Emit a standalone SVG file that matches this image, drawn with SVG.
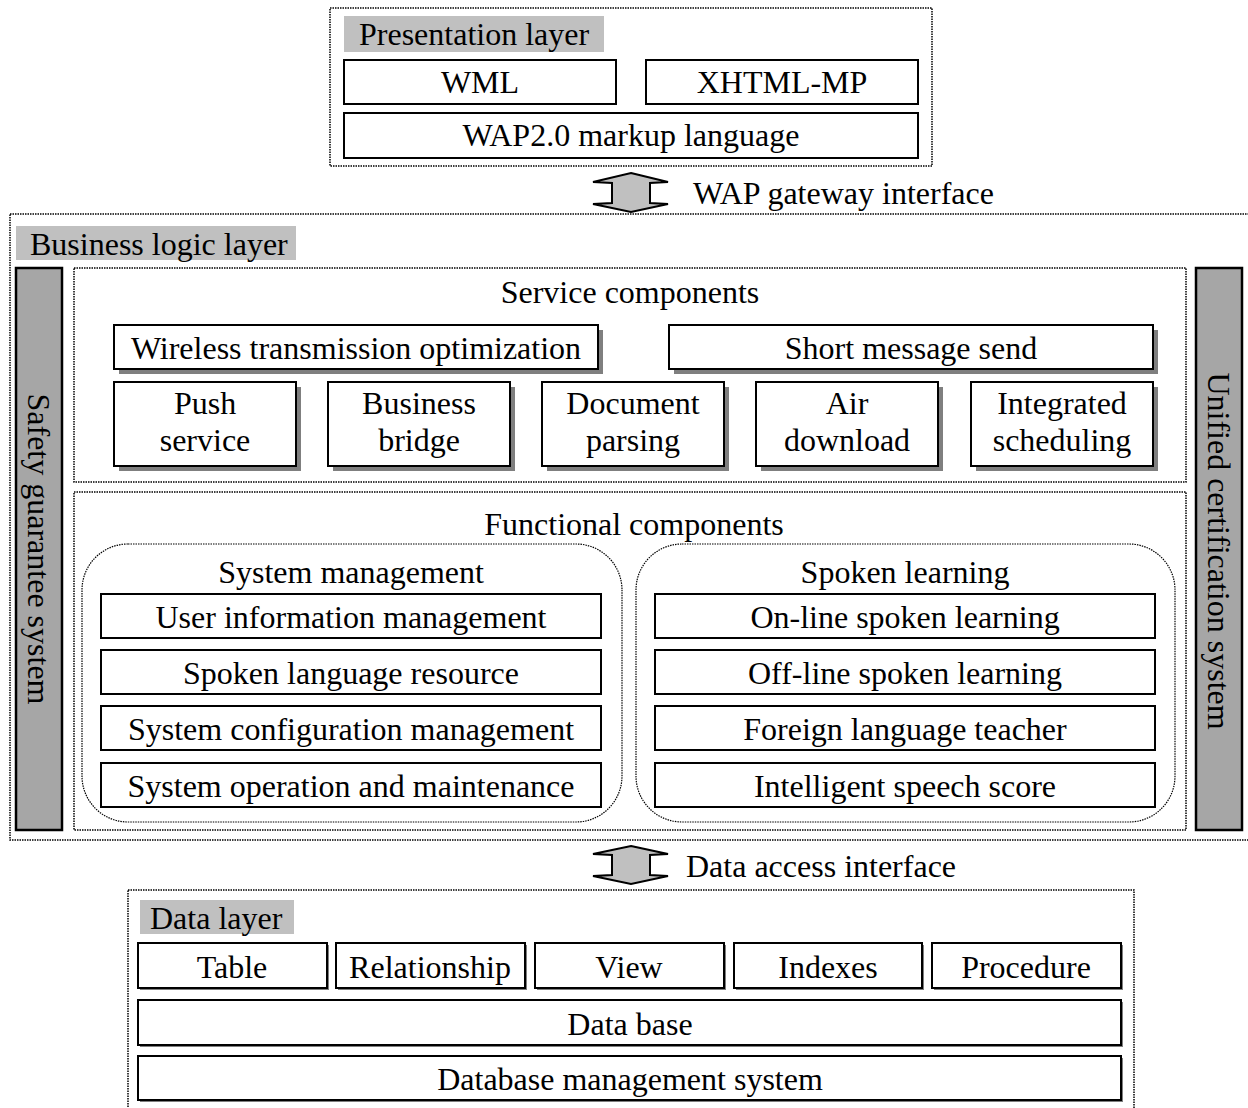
<svg xmlns="http://www.w3.org/2000/svg" width="1248" height="1108" viewBox="0 0 1248 1108">
<style>
text{font-family:"Liberation Serif","Times New Roman",serif;font-size:32px;fill:#000}
.c{text-anchor:middle}
.dot{fill:#fff;stroke:#000;stroke-width:1.5;stroke-dasharray:1.5 1}
.rdot{fill:none;stroke:#000;stroke-width:1.2;stroke-dasharray:1.5 1}
.box{fill:#fff;stroke:#000;stroke-width:2}
.sh{fill:#7f7f7f}
.lbl{fill:#c0c0c0}
.bar{fill:#a6a6a6;stroke:#000;stroke-width:2.5}
.arr{fill:#c0c0c0;stroke:#000;stroke-width:2;stroke-linejoin:miter}
</style>
<g id="presentation-layer">
<rect class="dot" x="330" y="8" width="602" height="158"/>
<rect class="lbl" x="344" y="16" width="260" height="36"/>
<text x="359" y="45">Presentation layer</text>
</g>
<g id="wml"><rect class="box" x="344" y="60" width="272" height="44"/><text class="c" x="480" y="93">WML</text></g>
<g id="xhtml-mp"><rect class="box" x="646" y="60" width="272" height="44"/><text class="c" x="782" y="93">XHTML-MP</text></g>
<g id="wap20"><rect class="box" x="344" y="113" width="574" height="45"/><text class="c" x="631" y="146">WAP2.0 markup language</text></g>

<g id="business-logic-layer">
<rect class="dot" x="10" y="214" width="1250" height="626"/>
<rect class="lbl" x="16" y="226" width="280" height="34"/>
<text x="30" y="255">Business logic layer</text>
</g>
<g id="safety"><rect class="bar" x="16" y="268" width="46" height="562"/><text class="c" transform="translate(39,549) rotate(90)" y="11">Safety guarantee system</text></g>
<g id="unified"><rect class="bar" x="1196" y="268" width="46" height="562"/><text class="c" transform="translate(1219,551) rotate(90)" y="11">Unified certification system</text></g>

<g id="service-components">
<rect class="dot" x="74" y="268" width="1112" height="214"/>
<text class="c" x="630" y="303">Service components</text>
</g>
<g id="wireless"><rect class="sh" x="119" y="330" width="484" height="44"/><rect class="box" x="114" y="325" width="484" height="44"/><text class="c" x="356" y="359">Wireless transmission optimization</text></g>
<g id="sms"><rect class="sh" x="674" y="330" width="484" height="44"/><rect class="box" x="669" y="325" width="484" height="44"/><text class="c" x="911" y="359">Short message send</text></g>
<g id="push"><rect class="sh" x="119" y="387" width="182" height="84"/><rect class="box" x="114" y="382" width="182" height="84"/><text class="c" x="205" y="414">Push</text><text class="c" x="205" y="451">service</text></g>
<g id="bridge"><rect class="sh" x="333" y="387" width="182" height="84"/><rect class="box" x="328" y="382" width="182" height="84"/><text class="c" x="419" y="414">Business</text><text class="c" x="419" y="451">bridge</text></g>
<g id="docparse"><rect class="sh" x="547" y="387" width="182" height="84"/><rect class="box" x="542" y="382" width="182" height="84"/><text class="c" x="633" y="414">Document</text><text class="c" x="633" y="451">parsing</text></g>
<g id="airdl"><rect class="sh" x="761" y="387" width="182" height="84"/><rect class="box" x="756" y="382" width="182" height="84"/><text class="c" x="847" y="414">Air</text><text class="c" x="847" y="451">download</text></g>
<g id="sched"><rect class="sh" x="976" y="387" width="182" height="84"/><rect class="box" x="971" y="382" width="182" height="84"/><text class="c" x="1062" y="414">Integrated</text><text class="c" x="1062" y="451">scheduling</text></g>

<g id="functional-components">
<rect class="dot" x="74" y="492" width="1112" height="338"/>
<text class="c" x="634" y="535">Functional components</text>
</g>
<g id="system-management">
<rect class="rdot" x="82" y="544" width="540" height="278" rx="46" ry="46"/>
<text class="c" x="351" y="583">System management</text>
</g>
<g id="uim"><rect class="box" x="101" y="594" width="500" height="44"/><text class="c" x="351" y="628">User information management</text></g>
<g id="slr"><rect class="box" x="101" y="650" width="500" height="44"/><text class="c" x="351" y="684">Spoken language resource</text></g>
<g id="scm"><rect class="box" x="101" y="706" width="500" height="44"/><text class="c" x="351" y="740">System configuration management</text></g>
<g id="som"><rect class="box" x="101" y="763" width="500" height="44"/><text class="c" x="351" y="797">System operation and maintenance</text></g>
<g id="spoken-learning">
<rect class="rdot" x="636" y="544" width="539" height="278" rx="46" ry="46"/>
<text class="c" x="905" y="583">Spoken learning</text>
</g>
<g id="online"><rect class="box" x="655" y="594" width="500" height="44"/><text class="c" x="905" y="628">On-line spoken learning</text></g>
<g id="offline"><rect class="box" x="655" y="650" width="500" height="44"/><text class="c" x="905" y="684">Off-line spoken learning</text></g>
<g id="teacher"><rect class="box" x="655" y="706" width="500" height="44"/><text class="c" x="905" y="740">Foreign language teacher</text></g>
<g id="score"><rect class="box" x="655" y="763" width="500" height="44"/><text class="c" x="905" y="797">Intelligent speech score</text></g>

<g id="data-layer">
<rect class="dot" x="128" y="890" width="1006" height="230"/>
<rect class="lbl" x="140" y="900" width="154" height="34"/>
<text x="150" y="929">Data layer</text>
</g>
<g id="table"><rect class="sh" x="140" y="945" width="189" height="45"/><rect class="box" x="138" y="943" width="189" height="45"/><text class="c" x="232" y="978">Table</text></g>
<g id="relationship"><rect class="sh" x="338" y="945" width="189" height="45"/><rect class="box" x="336" y="943" width="189" height="45"/><text class="c" x="430" y="978">Relationship</text></g>
<g id="view"><rect class="sh" x="537" y="945" width="189" height="45"/><rect class="box" x="535" y="943" width="189" height="45"/><text class="c" x="629" y="978">View</text></g>
<g id="indexes"><rect class="sh" x="736" y="945" width="188" height="45"/><rect class="box" x="734" y="943" width="188" height="45"/><text class="c" x="828" y="978">Indexes</text></g>
<g id="procedure"><rect class="sh" x="934" y="945" width="189" height="45"/><rect class="box" x="932" y="943" width="189" height="45"/><text class="c" x="1026" y="978">Procedure</text></g>
<g id="database"><rect class="sh" x="140" y="1002" width="983" height="45"/><rect class="box" x="138" y="1000" width="983" height="45"/><text class="c" x="630" y="1035">Data base</text></g>
<g id="dbms"><rect class="sh" x="140" y="1058" width="983" height="44"/><rect class="box" x="138" y="1056" width="983" height="44"/><text class="c" x="630" y="1090">Database management system</text></g>

<g id="connectors">
<polygon class="arr" points="631,173 668,182 650,183 650,203 668,204 631,212 593,204 612,203 612,183 593,182"/>
<text x="693" y="204">WAP gateway interface</text>
<polygon class="arr" points="631,846 668,854 650,855 650,875 668,876 631,884 593,876 612,875 612,855 593,854"/>
<text x="686" y="877">Data access interface</text>
</g>
</svg>
